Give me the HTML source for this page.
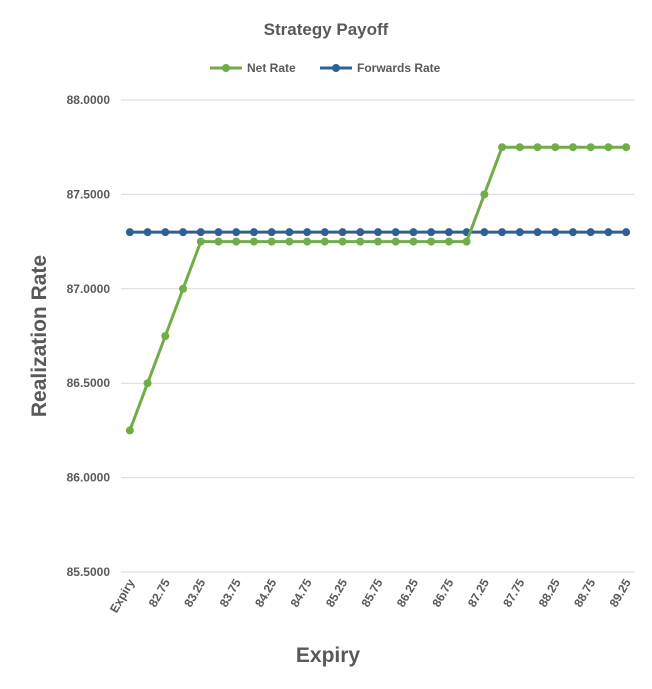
<!DOCTYPE html>
<html><head><meta charset="utf-8"><style>
body{margin:0;background:#fff;font-family:"Liberation Sans",sans-serif}
</style></head><body>
<svg id="c" width="652" height="684" xmlns="http://www.w3.org/2000/svg">
<text x="326" y="35" text-anchor="middle" font-size="17" font-weight="bold" fill="#595959">Strategy Payoff</text>
<g>
<g><line x1="210" y1="68" x2="242" y2="68" stroke="#70ad47" stroke-width="3"/><circle cx="226" cy="68" r="4" fill="#70ad47"/><text x="247" y="72" font-size="12" font-weight="bold" fill="#595959">Net Rate</text></g>
<g><line x1="320" y1="68" x2="352" y2="68" stroke="#2e6093" stroke-width="3"/><circle cx="336" cy="68" r="4" fill="#2e6093"/><text x="357" y="72" font-size="12" font-weight="bold" fill="#595959">Forwards Rate</text></g>
</g>
<text transform="translate(46,336) rotate(-90)" text-anchor="middle" font-size="21" font-weight="bold" fill="#595959">Realization Rate</text>
<text x="328" y="662" text-anchor="middle" font-size="21" font-weight="bold" fill="#595959">Expiry</text>
<g id="plot"></g>
</svg>
<script>
const categories=["Expiry","82.5","82.75","83","83.25","83.5","83.75","84","84.25","84.5","84.75","85","85.25","85.5","85.75","86","86.25","86.5","86.75","87","87.25","87.5","87.75","88","88.25","88.5","88.75","89","89.25"];
const netRate=[86.25,86.5,86.75,87,87.25,87.25,87.25,87.25,87.25,87.25,87.25,87.25,87.25,87.25,87.25,87.25,87.25,87.25,87.25,87.25,87.5,87.75,87.75,87.75,87.75,87.75,87.75,87.75,87.75];
const forwardsRate=[87.3,87.3,87.3,87.3,87.3,87.3,87.3,87.3,87.3,87.3,87.3,87.3,87.3,87.3,87.3,87.3,87.3,87.3,87.3,87.3,87.3,87.3,87.3,87.3,87.3,87.3,87.3,87.3,87.3];
const yTicks=[85.5,86,86.5,87,87.5,88];
const NS="http://www.w3.org/2000/svg";
const g=document.getElementById('plot');
const x0=121,x1=635,y0=572,y1=100,yMin=85.5,yMax=88;
const step=(x1-x0)/categories.length;
const xs=i=>x0+step*(i+0.5);
const ys=v=>y0-(v-yMin)/(yMax-yMin)*(y0-y1);
function mk(t,a){const e=document.createElementNS(NS,t);for(const k in a)e.setAttribute(k,a[k]);g.appendChild(e);return e;}
yTicks.forEach(v=>{
 const l=mk('line',{x1:x0,x2:x1,y1:ys(v),y2:ys(v),stroke:'#d9d9d9','stroke-width':1});
 
 
 const t=mk('text',{x:110,y:ys(v)+4,'text-anchor':'end','font-size':12,'font-weight':'bold',fill:'#595959'});
 t.textContent=v.toFixed(4);
 
 
});
categories.forEach((c,i)=>{
 if(i%2)return;
 const t=mk('text',{transform:`translate(${xs(i)+5},${y0+10}) rotate(-60)`,'text-anchor':'end','font-size':12,'font-weight':'bold',fill:'#595959'});
 t.textContent=c;
 
 
});
function series(vals,color,name){
 const p=mk('polyline',{points:vals.map((v,i)=>xs(i)+','+ys(v)).join(' '),fill:'none',stroke:color,'stroke-width':3,'stroke-linejoin':'round'});
 
 
 vals.forEach((v,i)=>{
  const c=mk('circle',{cx:xs(i),cy:ys(v),r:4,fill:color});
  
  
 });
}
series(forwardsRate,'#2e6093','forwards-rate');
series(netRate,'#70ad47','net-rate');
</script>
</body></html>
